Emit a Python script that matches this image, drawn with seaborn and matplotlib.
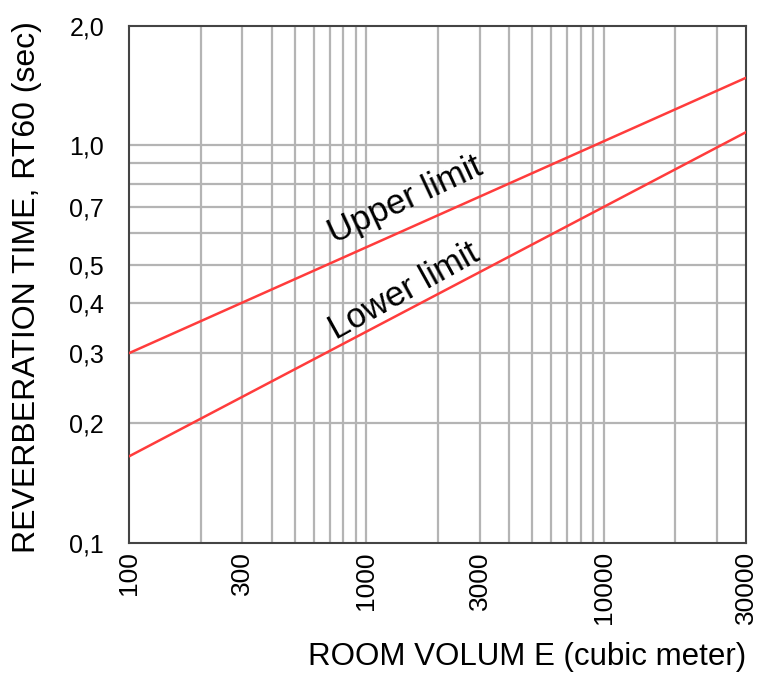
import pandas as pd
import matplotlib.pyplot as plt
import matplotlib.ticker as mticker
import seaborn as sns

# values (log-log chart)
volume = [100, 40000]
upper_rt60 = [0.30, 1.48]
lower_rt60 = [0.165, 1.08]

x_tick_pos = [100, 300, 1000, 3000, 10000, 40000]
x_tick_labels = ['100', '300', '1000', '3000', '10000', '30000']
y_tick_pos = [0.1, 0.2, 0.3, 0.4, 0.5, 0.7, 1.0, 2.0]
y_tick_labels = ['0,1', '0,2', '0,3', '0,4', '0,5', '0,7', '1,0', '2,0']

x_grid = [200, 300, 400, 500, 600, 700, 800, 900, 1000,
          2000, 3000, 4000, 5000, 6000, 7000, 8000, 9000, 10000, 20000, 30000]
y_grid = [0.2, 0.3, 0.4, 0.5, 0.6, 0.7, 0.8, 0.9, 1.0]

data = pd.DataFrame({
    'volume': volume * 2,
    'rt60': upper_rt60 + lower_rt60,
    'limit': ['Upper limit'] * 2 + ['Lower limit'] * 2,
})

sns.set_style('white')
plt.rcParams['font.family'] = ['Liberation Sans', 'DejaVu Sans']
plt.rcParams['text.color'] = 'black'

fig = plt.figure(figsize=(7.6, 6.75), dpi=100)
ax = fig.add_axes([0.17, 0.196, 0.812, 0.766])

ax.set_xscale('log')
ax.set_yscale('log')
ax.set_xlim(100, 40000)
ax.set_ylim(0.1, 2.0)

# grid lines
for gx in x_grid:
    ax.axvline(gx, color='#b4b4b4', lw=1.6, zorder=1)
for gy in y_grid:
    ax.axhline(gy, color='#b4b4b4', lw=1.6, zorder=1)

sns.lineplot(data=data, x='volume', y='rt60', units='limit', estimator=None,
             color='#ff3c3c', lw=1.8, ax=ax, zorder=3)

ax.xaxis.set_major_locator(mticker.FixedLocator(x_tick_pos))
ax.xaxis.set_major_formatter(mticker.FixedFormatter(x_tick_labels))
ax.xaxis.set_minor_locator(mticker.NullLocator())
ax.yaxis.set_major_locator(mticker.FixedLocator(y_tick_pos))
ax.yaxis.set_major_formatter(mticker.FixedFormatter(y_tick_labels))
ax.yaxis.set_minor_locator(mticker.NullLocator())
ax.tick_params(axis='x', labelsize=19, rotation=90, length=0, pad=6, labelcolor='black')
ax.tick_params(axis='y', labelsize=18, length=0, pad=18, labelcolor='black')

for s in ax.spines.values():
    s.set_color('#444444')
    s.set_linewidth(1.5)

ax.text(1460, 0.73, 'Upper limit', rotation=25, fontsize=25,
        ha='center', va='center', zorder=4)
ax.text(1440, 0.43, 'Lower limit', rotation=29, fontsize=25,
        ha='center', va='center', zorder=4)

ax.set_xlabel('')
ax.set_ylabel('')
fig.text(0.982, 0.027, 'ROOM VOLUM E (cubic meter)', ha='right', va='center', fontsize=22.5)
fig.text(0.035, 0.575, 'REVERBERATION TIME, RT60 (sec)', rotation=90,
         ha='center', va='center', fontsize=23)

plt.savefig('out.png', dpi=100)
